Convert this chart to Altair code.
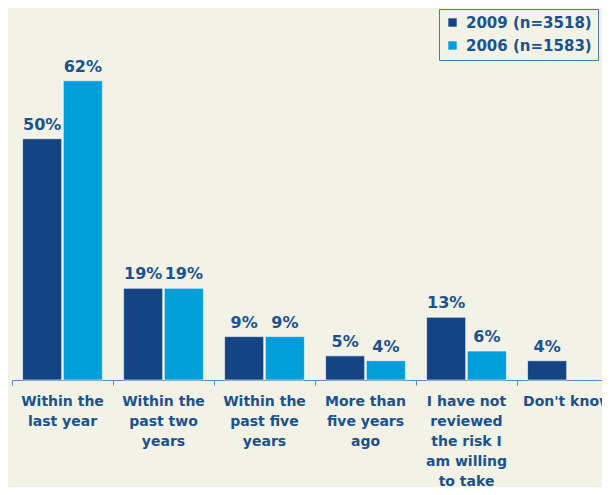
import altair as alt
import pandas as pd

categories = [
    "Within the|last year",
    "Within the|past two|years",
    "Within the|past five|years",
    "More than|five years|ago",
    "I have not|reviewed|the risk I|am willing|to take",
    "Don't know",
]
series = ["2009 (n=3518)", "2006 (n=1583)"]
values_2009 = [50, 19, 9, 5, 13, 4]
values_2006 = [62, 19, 9, 4, 6, None]
colors = ["#154485", "#009FDA"]

rows = []
for c, a, b in zip(categories, values_2009, values_2006):
    rows.append({"cat": c, "series": series[0], "val": a})
    if b is not None:
        rows.append({"cat": c, "series": series[1], "val": b})
df = pd.DataFrame(rows)
df["label"] = df["val"].astype(int).astype(str) + "%"

TXT = "#1A5291"
FONT = "DejaVu Sans"

x = alt.X("cat:N", sort=categories, title=None,
          scale=alt.Scale(range=[0, 606], paddingInner=0, paddingOuter=0),
          axis=alt.Axis(labelExpr="split(datum.value, '|')", labelAngle=0,
                        labelFont=FONT, labelFontSize=14, labelFontWeight="bold",
                        labelColor=TXT, labelLineHeight=20, labelPadding=9,
                        labelLimit=0, domainColor="#5B8CC0", tickColor="#5B8CC0",
                        tickSize=5, bandPosition=0, grid=False, labelBaseline="top"))
xo = alt.XOffset("series:N", sort=series,
                 scale=alt.Scale(paddingInner=0.04, paddingOuter=0.26))
y = alt.Y("val:Q", scale=alt.Scale(domain=[0, 74.6]), axis=None)

base = alt.Chart(df)
bars = base.mark_bar(stroke="#ffffff", strokeWidth=1, strokeOpacity=0.6).encode(
    x=x, xOffset=xo, y=y,
    color=alt.Color("series:N", sort=series,
                    scale=alt.Scale(domain=series, range=colors),
                    legend=alt.Legend(title=None, orient="none", legendX=427, legendY=-11,
                                      symbolType="square", symbolSize=70,
                                      symbolStrokeWidth=0,
                                      labelFont=FONT, labelFontSize=15,
                                      labelFontWeight="bold", labelColor=TXT,
                                      labelOffset=6, rowPadding=7, padding=6,
                                      strokeColor="#4A78B0", labelLimit=0)),
)
text = base.mark_text(font=FONT, fontSize=16, fontWeight="bold", color=TXT,
                      baseline="alphabetic", dy=-9).encode(
    x=x, xOffset=xo, y=y, text="label:N")

chart = (bars + text).properties(
    width=590, height=360,
    autosize=alt.AutoSizeParams(type="none"),
    padding={"left": 4, "top": 12, "right": 0, "bottom": 107},
    background="#F2F2E6",
).configure_view(stroke=None)

chart.save("out.html", embed_options={"renderer": "svg", "actions": False})
